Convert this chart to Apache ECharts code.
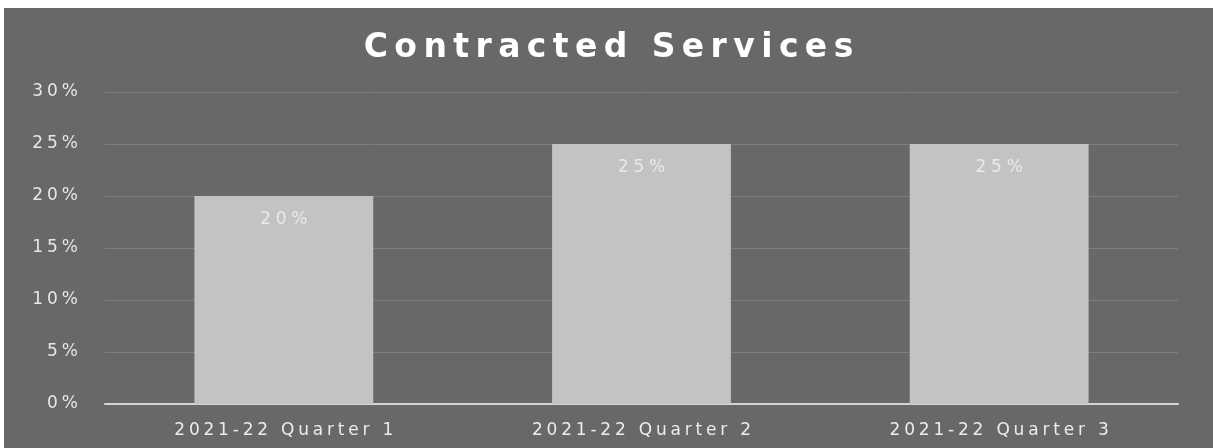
<!DOCTYPE html>
<html>
<head>
<meta charset="utf-8">
<script src="https://cdn.jsdelivr.net/npm/echarts@6/dist/echarts.min.js"></script>
<style>
  html, body { margin: 0; padding: 0; background: #ffffff; }
  #chart { position: absolute; left: 4px; top: 8px; width: 1209px; height: 440px; }
</style>
</head>
<body>
<div id="chart"></div>
<script>
// Share of spend on contracted services, by quarter
const chartTitle = 'Contracted Services';
const categories = ['2021-22 Quarter 1', '2021-22 Quarter 2', '2021-22 Quarter 3'];
const shares = [20, 25, 25];
const yTicks = [0, 5, 10, 15, 20, 25, 30];

// Wrap each character in a rich-text fragment so the text is drawn tracked out
function tracked(text, style) {
  return Array.from(text).map(ch => '{' + style + '|' + (ch === ' ' ? '\u00a0' : ch) + '}').join('');
}

const FONT = 'DejaVu Sans';

const chart = echarts.init(document.getElementById('chart'));
chart.setOption({
  backgroundColor: '#686868',
  animation: false,
  title: {
    text: tracked(chartTitle, 't'),
    left: 'center',
    top: 19,
    textStyle: {
      rich: {
        t: {
          color: '#ffffff',
          fontFamily: FONT,
          fontWeight: 'bold',
          fontSize: 33,
          padding: [0, 3.2, 0, 3.2]
        }
      }
    }
  },
  grid: { left: 101, right: 35, top: 84, bottom: 44 },
  xAxis: {
    type: 'category',
    data: categories,
    axisLine: { lineStyle: { color: '#d4d4d4', width: 2 } },
    axisTick: { show: false },
    axisLabel: {
      interval: 0,
      margin: 18,
      formatter: v => tracked(v, 'c'),
      rich: {
        c: { color: '#ececec', fontFamily: FONT, fontSize: 17, padding: [0, 1.9, 0, 1.9] }
      }
    }
  },
  yAxis: {
    type: 'value',
    min: yTicks[0],
    max: yTicks[yTicks.length - 1],
    interval: yTicks[1] - yTicks[0],
    axisLine: { show: false },
    axisTick: { show: false },
    splitLine: { lineStyle: { color: '#7e7e7e', width: 1 } },
    axisLabel: {
      margin: 25,
      formatter: v => tracked(v + '%', 'y'),
      rich: {
        y: { color: '#e6e6e6', fontFamily: FONT, fontSize: 17, padding: [0, 2, 0, 2] }
      }
    }
  },
  series: [{
    type: 'bar',
    data: shares,
    barWidth: '50%',
    itemStyle: { color: '#c3c3c3' },
    label: {
      show: true,
      position: 'insideTop',
      distance: 15,
      formatter: p => tracked(p.value + '%', 'v'),
      rich: {
        v: { color: '#e9e9e9', fontFamily: FONT, fontSize: 17, padding: [0, 2.4, 0, 2.4] }
      }
    }
  }]
});
</script>
</body>
</html>
